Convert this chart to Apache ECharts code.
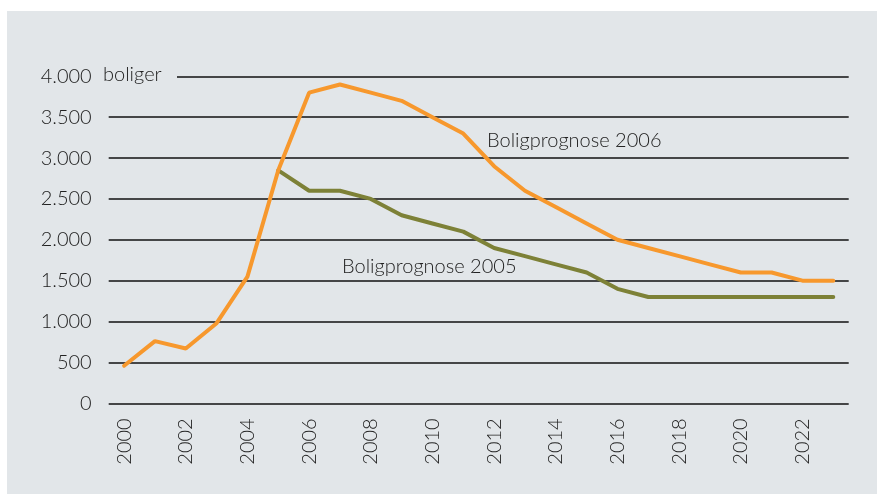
<!DOCTYPE html>
<html>
<head>
<meta charset="utf-8">
<script src="https://cdn.jsdelivr.net/npm/echarts@6/dist/echarts.min.js"></script>
<style>
  html, body { margin: 0; padding: 0; background: #fff; }
  #chart { width: 878px; height: 494px; }
</style>
</head>
<body>
<div id="chart"></div>
<script>
// år og prognoser (antal boliger)
var years = ['2000','2001','2002','2003','2004','2005','2006','2007','2008','2009','2010','2011',
             '2012','2013','2014','2015','2016','2017','2018','2019','2020','2021','2022','2023'];
var prognose2006 = [460, 760, 670, 980, 1550, 2850, 3800, 3900, 3800, 3700, 3500, 3300,
                    2900, 2600, 2400, 2200, 2000, 1900, 1800, 1700, 1600, 1600, 1500, 1500];
var prognose2005 = [null, null, null, null, null, 2850, 2600, 2600, 2500, 2300, 2200, 2100,
                    1900, 1800, 1700, 1600, 1400, 1300, 1300, 1300, 1300, 1300, 1300, 1300];
var yTicks = { min: 0, max: 4000, step: 500 };

var bg = '#e2e6e9';
var font = 'Lato';
var chart = echarts.init(document.getElementById('chart'), null, { renderer: 'canvas' });

chart.setOption({
  animation: false,
  backgroundColor: '#fff',
  grid: { left: 108.7, right: 29.3, top: 76.3, bottom: 90.7 },
  graphic: [
    { type: 'rect', z: -10, silent: true,
      shape: { x: 7, y: 11, width: 870, height: 483 }, style: { fill: bg } },
    { type: 'rect', z: 10, silent: true,
      shape: { x: 100, y: 68, width: 77, height: 16 }, style: { fill: bg } },
    { type: 'text', z: 11, left: 103, top: 65,
      style: { text: 'boliger', font: '300 20px ' + font, fill: '#222' } },
    { type: 'text', z: 11, left: 487, top: 131,
      style: { text: 'Boligprognose 2006', font: '300 20px ' + font, fill: '#222' } },
    { type: 'text', z: 11, left: 342, top: 257,
      style: { text: 'Boligprognose 2005', font: '300 20px ' + font, fill: '#222' } }
  ],
  xAxis: {
    type: 'category',
    data: years,
    boundaryGap: true,
    axisLine: { show: false },
    axisTick: { show: false },
    axisLabel: {
      interval: 1, rotate: 90, margin: 15,
      fontFamily: font, fontWeight: 300, fontSize: 20, color: '#222'
    }
  },
  yAxis: {
    type: 'value',
    min: yTicks.min, max: yTicks.max, interval: yTicks.step,
    axisLine: { show: false },
    axisTick: { show: false },
    splitLine: { lineStyle: { color: '#111', width: 1.5 } },
    axisLabel: {
      margin: 17,
      fontFamily: font, fontWeight: 300, fontSize: 20, color: '#222',
      formatter: function (v) {
        return v >= 1000 ? Math.floor(v / 1000) + '.' + String(v % 1000).padStart(3, '0') : String(v);
      }
    }
  },
  series: [
    {
      name: 'Boligprognose 2005', type: 'line', data: prognose2005,
      symbol: 'none', z: 3,
      lineStyle: { color: '#7d8137', width: 4, cap: 'round' }
    },
    {
      name: 'Boligprognose 2006', type: 'line', data: prognose2006,
      symbol: 'none', z: 4,
      lineStyle: { color: '#f7982d', width: 4, cap: 'round' }
    }
  ]
});
window.onresize = chart.resize;
</script>
</body>
</html>
